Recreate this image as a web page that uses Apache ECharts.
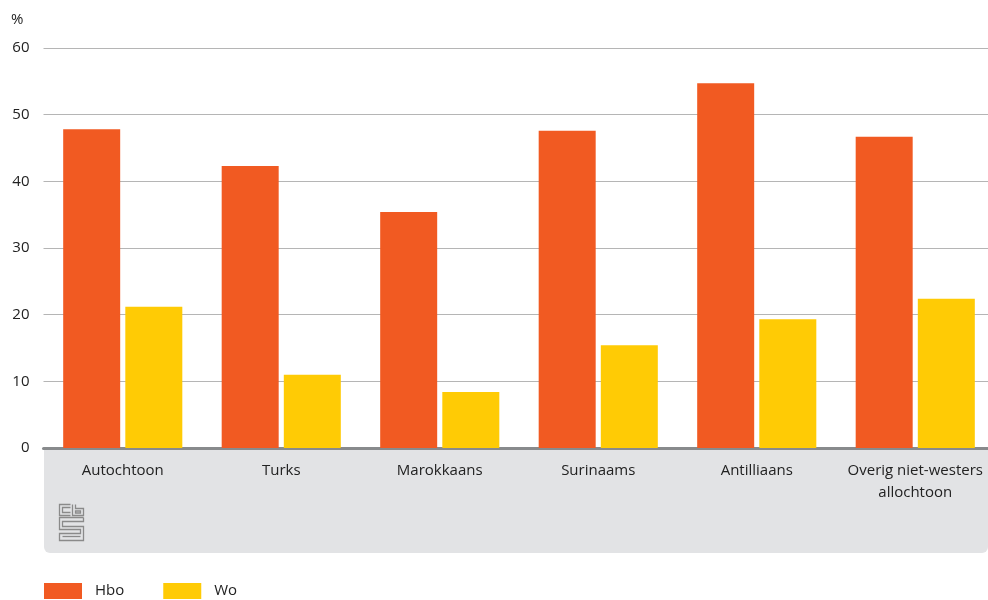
<!DOCTYPE html>
<html>
<head>
<meta charset="utf-8">
<script src="https://cdn.jsdelivr.net/npm/echarts@6/dist/echarts.min.js"></script>
<style>html,body{margin:0;padding:0;background:#fff;overflow:hidden}#c{width:1000px;height:600px}</style>
</head>
<body>
<div id="c"></div>
<script>
var categories = ['Autochtoon', 'Turks', 'Marokkaans', 'Surinaams', 'Antilliaans', 'Overig niet-westers\nallochtoon'];
var hbo = [47.8, 42.3, 35.4, 47.6, 54.7, 46.7];
var wo = [21.2, 11.0, 8.4, 15.4, 19.3, 22.4];
var yTicks = [0, 10, 20, 30, 40, 50, 60];

var FONT = 'Open Sans';
var chart = echarts.init(document.getElementById('c'));
var logoStyle = {stroke: '#8a8a8a', fill: 'none', lineWidth: 1.3};
chart.setOption({
  animation: false,
  textStyle: {fontFamily: FONT},
  grid: {left: 43.5, width: 951, top: 48, height: 400, containLabel: false},
  graphic: [
    {type: 'rect', z: -10, silent: true, shape: {x: 44, y: 449, width: 944, height: 104, r: [0, 0, 6, 6]}, style: {fill: '#e2e3e5'}},
    {type: 'text', left: 11, top: 12, style: {text: '%', font: '15px "' + FONT + '"', fill: '#222'}},
    {type: 'group', left: 57, top: 502, children: [
      {type: 'polyline', shape: {points: [[11,0],[0,0],[0,11],[11,11]]}, style: logoStyle},
      {type: 'polyline', shape: {points: [[11,3],[3,3],[3,8],[11,8]]}, style: logoStyle},
      {type: 'polyline', shape: {points: [[13,0],[13,11],[24,11],[24,4],[16,4],[16,0]]}, style: logoStyle},
      {type: 'rect', shape: {x: 16, y: 6.5, width: 5, height: 2}, style: logoStyle},
      {type: 'polyline', shape: {points: [[24,13],[0,13],[0,25],[21,25],[21,29],[0,29],[0,36],[24,36],[24,22],[3,22],[3,17],[24,17],[24,13]]}, style: logoStyle},
      {type: 'polyline', shape: {points: [[3,32],[21,32]]}, style: logoStyle}
    ]}
  ],
  legend: {
    left: 44, top: 583, padding: 0, itemWidth: 38, itemHeight: 16, itemGap: 39,
    icon: 'rect',
    textStyle: {fontSize: 15, color: '#222', padding: [0, 0, 0, 8], fontFamily: FONT},
    data: ['Hbo', 'Wo']
  },
  xAxis: {
    type: 'category', data: categories,
    axisLine: {lineStyle: {color: '#888a8c', width: 3}},
    axisTick: {show: false},
    axisLabel: {color: '#222', fontSize: 15, lineHeight: 22, margin: 12, interval: 0, fontFamily: FONT}
  },
  yAxis: {
    type: 'value', min: 0, max: 60, interval: 10,
    axisLine: {show: false}, axisTick: {show: false},
    axisLabel: {color: '#222', fontSize: 15, margin: 14, fontFamily: FONT,
      formatter: function (v) { return yTicks.indexOf(v) >= 0 ? String(v) : ''; }},
    splitLine: {lineStyle: {color: '#b5b5b5', width: 1}}
  },
  series: [
    {name: 'Hbo', type: 'bar', data: hbo, itemStyle: {color: '#f15a22'}, barWidth: 57, barGap: '9%'},
    {name: 'Wo', type: 'bar', data: wo, itemStyle: {color: '#ffcb05'}, barWidth: 57}
  ]
});
</script>
</body>
</html>
